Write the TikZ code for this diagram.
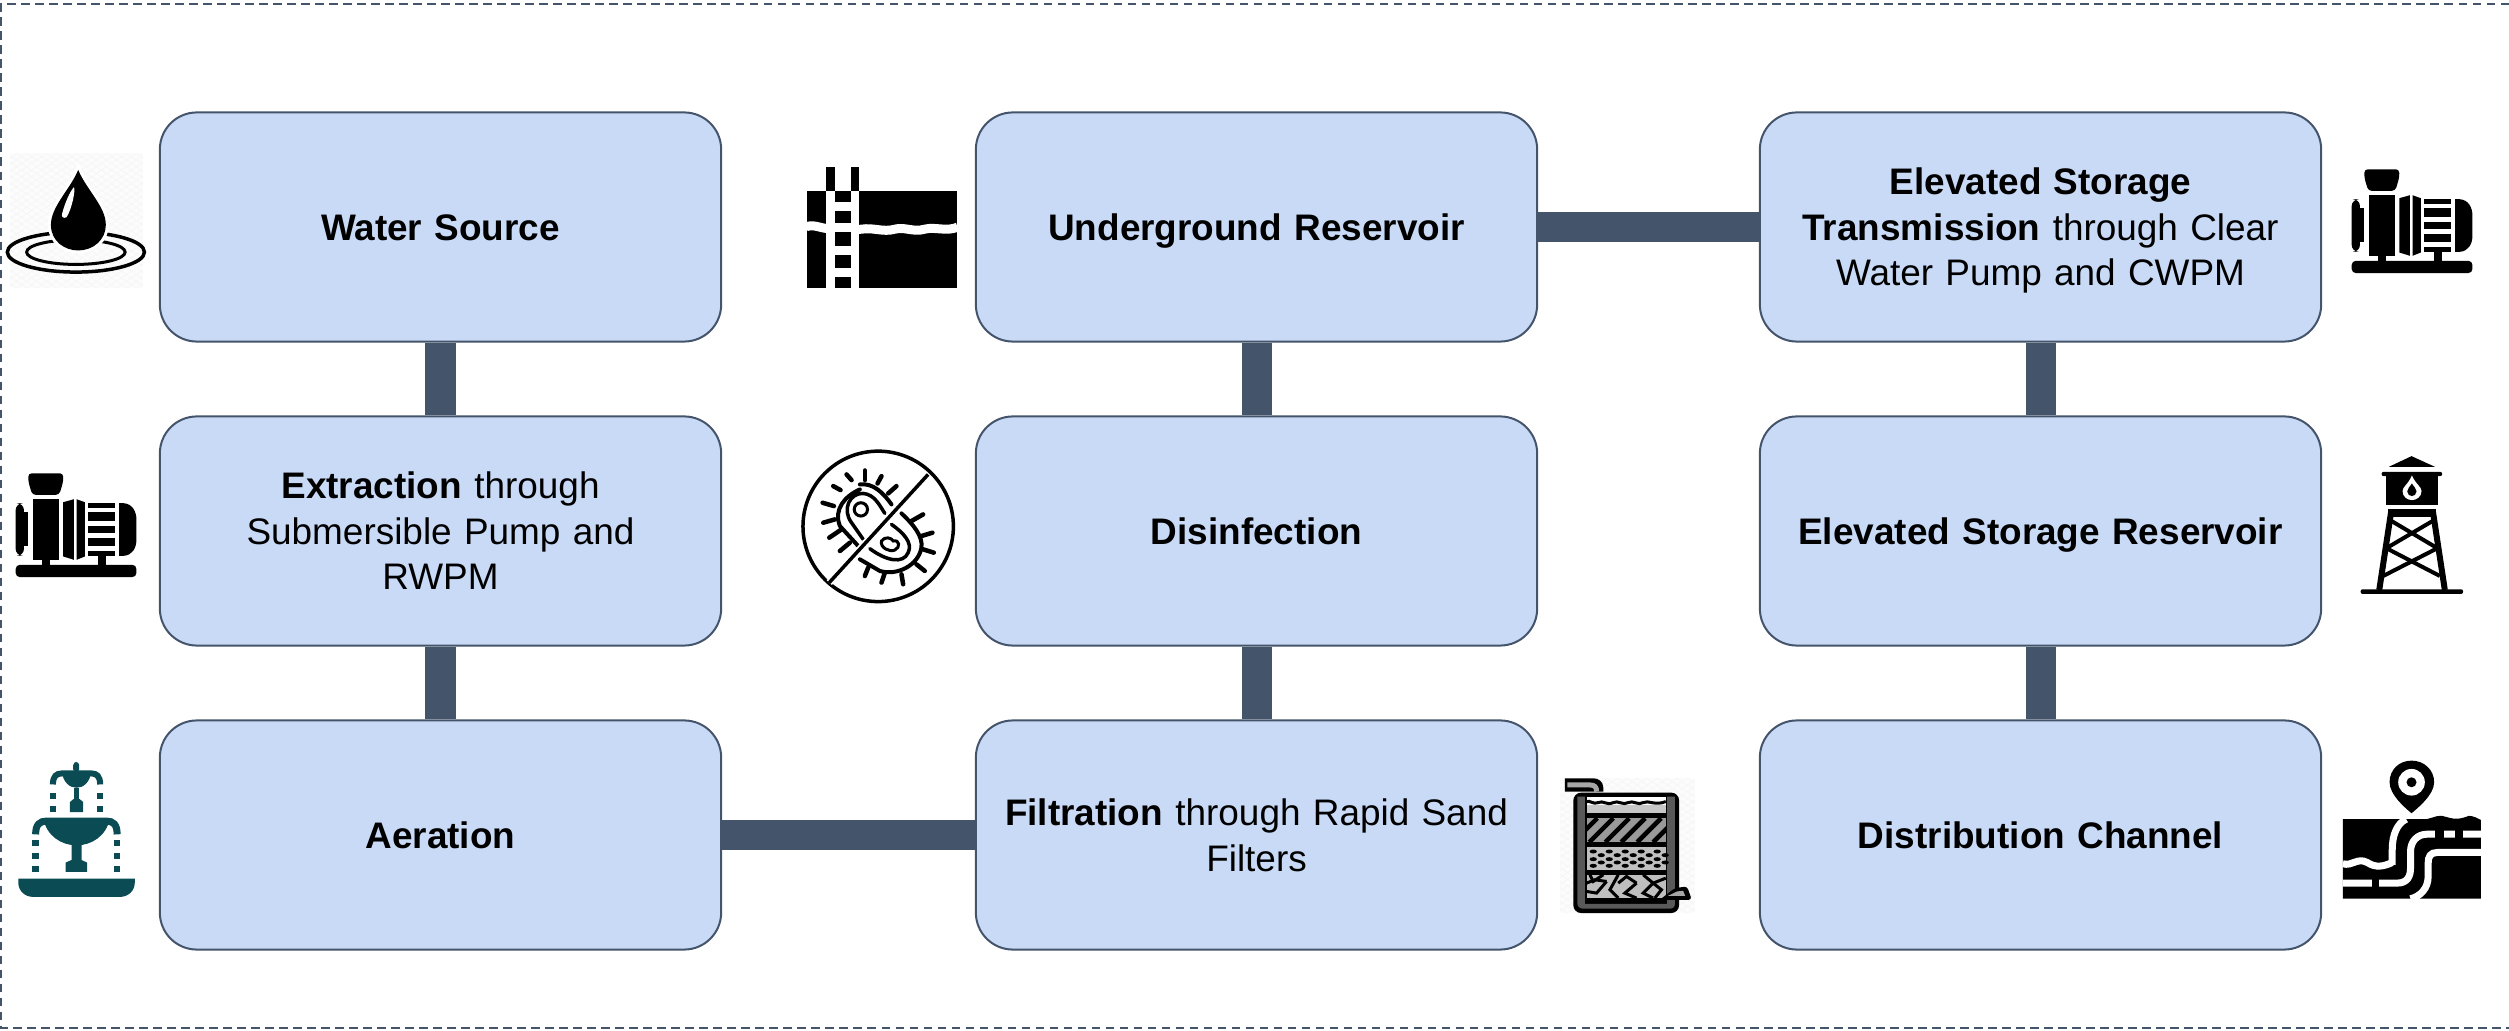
\documentclass[tikz,border=0pt]{standalone}
\usepackage{fontspec}
\setmainfont{Liberation Sans}
\usepackage{tikz}
\definecolor{slateline}{HTML}{44546A}
\definecolor{boxblue}{HTML}{C9DAF6}
\definecolor{fountainteal}{HTML}{0B4C54}
\newcommand{\stagestrut}{\rule[-3.6pt]{0pt}{10.8pt}}
\newcommand{\stagetop}{\rule[-3.6pt]{0pt}{14.8pt}}
\tikzset{
    stagebox/.style={draw=slateline,line width=0.02cm,fill=boxblue,rounded corners=0.37cm,
        minimum width=5.61cm,minimum height=2.29cm,align=center,text width=5.3cm,
        font=\fontsize{10.5}{12.9}\selectfont,
        execute at begin node=\stagetop,execute at end node=\stagestrut},
    link/.style={slateline,line width=0.3cm},
    frameline/.style={slateline,line width=0.02cm,dash pattern=on 0.085cm off 0.055cm},
    crop/.style={x=0.00333cm,y=-0.00333cm},
}
\newcommand{\checkbg}[4]{
    \begin{scope}
        \clip (#1,#2) rectangle (#3,#4);
        \fill[black!1] (#1,#2) rectangle (#3,#4);
        \foreach \k in {-600,-570,...,600}{
            \draw[black!4,line width=0.15pt] ({(#1+#3)/2+\k-300},#2) -- ({(#1+#3)/2+\k+300},#4);
            \draw[black!4,line width=0.15pt] ({(#1+#3)/2+\k+300},#2) -- ({(#1+#3)/2+\k-300},#4);
        }
    \end{scope}
}
\newcommand{\pumpicon}{
    \fill[rounded corners=1.2pt] (47,375) rectangle (410,412);
    \fill[rounded corners=1pt] (85,100) -- (190,100) -- (190,125) -- (178,165) -- (97,165) -- (85,125) -- cycle;
    \fill (100,178) rectangle (178,360);
    \fill[rounded corners=2pt] (47,190) rectangle (72,348);
    \fill (72,215) rectangle (85,320);
    \fill (190,187) -- (222,178) -- (222,360) -- (190,350) -- cycle;
    \fill (230,178) -- (255,187) -- (255,350) -- (230,360) -- cycle;
    \foreach \a/\b in {190/203,217/242,257/280,295/320,335/348}{
        \fill (265,\a) rectangle (345,\b);
    }
    \fill (358,190) -- (372,190) .. controls (398,192) and (410,215) .. (410,240) -- (410,298)
        .. controls (410,325) and (398,346) .. (372,348) -- (358,348) -- cycle;
    \fill (125,360) rectangle (150,375);
    \fill (293,348) rectangle (318,375);
}
\begin{document}
\begin{tikzpicture}[x=0.01cm,y=-0.01cm]
    \useasboundingbox (0,0) rectangle (2509,1031);
    \draw[frameline] (2509,4) -- (1,4) -- (1,1028) -- (2509,1028);

    \node[stagebox] (source) at (440.5,227) {\textbf{Water Source}};
    \node[stagebox] (extraction) at (440.5,531) {\textbf{Extraction} through\\Submersible Pump and\\RWPM};
    \node[stagebox] (aeration) at (440.5,835) {\textbf{Aeration}};
    \node[stagebox] (reservoir) at (1256.5,227) {\textbf{Underground Reservoir}};
    \node[stagebox] (disinfection) at (1256.5,531) {\textbf{Disinfection}};
    \node[stagebox] (filtration) at (1256.5,835) {\textbf{Filtration} through Rapid Sand\\Filters};
    \node[stagebox] (transmission) at (2040.5,227) {\textbf{Elevated Storage}\\\textbf{Transmission} through Clear\\Water Pump and CWPM};
    \node[stagebox] (elevated) at (2040.5,531) {\textbf{Elevated Storage Reservoir}};
    \node[stagebox] (distribution) at (2040.5,835) {\textbf{Distribution Channel}};

    \draw[link] (source) -- (extraction);
    \draw[link] (extraction) -- (aeration);
    \draw[link] (aeration) -- (filtration);
    \draw[link] (filtration) -- (disinfection);
    \draw[link] (disinfection) -- (reservoir);
    \draw[link] (reservoir) -- (transmission);
    \draw[link] (transmission) -- (elevated);
    \draw[link] (elevated) -- (distribution);

    \begin{scope}[shift={(0,120)},crop]
        \checkbg{30}{100}{430}{505}
        \draw[line width=0.035cm] (228,397) ellipse (206 and 60);
        \draw[line width=0.03cm] (228,397) ellipse (148 and 37);
        \filldraw[black,preaction={draw=white,line width=0.06cm},draw=none] (235,150) .. controls (210,210) and (153,260) .. (153,315)
            .. controls (153,365) and (195,392) .. (235,392) .. controls (280,392) and (318,360) .. (318,315)
            .. controls (318,260) and (260,210) .. (235,150) -- cycle;
        \fill[white] (222,202) .. controls (228,210) and (215,270) .. (200,292) .. controls (190,298) and (183,290) .. (187,280)
            .. controls (195,250) and (210,215) .. (222,202) -- cycle;
    \end{scope}

    \begin{scope}[shift={(0,440)},crop]
        \pumpicon
    \end{scope}
    \begin{scope}[shift={(2336,136)},crop]
        \pumpicon
    \end{scope}

    \begin{scope}[shift={(0,440)},crop,fountainteal]
        \fill (55,1318) -- (405,1318) -- (405,1330) .. controls (405,1355) and (385,1373) .. (360,1373)
            -- (100,1373) .. controls (75,1373) and (55,1355) .. (55,1330) -- cycle;
        \fill (197,1298) -- (197,1270) -- (215,1262) -- (215,1210) -- (245,1210) -- (245,1262) -- (262,1270) -- (262,1298) -- cycle;
        \fill (130,1137) -- (330,1137) .. controls (320,1190) and (275,1218) .. (230,1218) .. controls (185,1218) and (140,1190) .. (130,1137) -- cycle;
        \draw[line width=0.07cm] (107,1185) .. controls (107,1155) and (120,1145) .. (140,1145) -- (320,1145)
            .. controls (340,1145) and (352,1155) .. (352,1185);
        \foreach \a/\b in {1203/1220,1242/1258,1280/1298}{
            \fill (97,\a) rectangle (117,\b);
            \fill (343,\a) rectangle (362,\b);
        }
        \fill[rounded corners=1pt] (220,1000) -- (220,967) -- (238,967) -- (238,1000) -- cycle;
        \fill (185,995) -- (275,995) .. controls (270,1030) and (250,1045) .. (230,1045) .. controls (210,1045) and (190,1030) .. (185,995) -- cycle;
        \draw[line width=0.06cm] (159,1035) .. controls (159,1010) and (170,1002) .. (185,1002) -- (275,1002)
            .. controls (290,1002) and (301,1010) .. (301,1035);
        \fill (222,1045) rectangle (238,1078);
        \fill (210,1118) -- (210,1088) -- (222,1078) -- (238,1078) -- (250,1088) -- (250,1118) -- cycle;
        \foreach \a/\b in {1062/1080,1100/1118}{
            \fill (150,\a) rectangle (168,\b);
            \fill (292,\a) rectangle (310,\b);
        }
    \end{scope}

    \begin{scope}[shift={(780,140)},crop]
        \fill (80,152) rectangle (533,445);
        \fill (138,82) rectangle (165,152);
        \fill (212,82) rectangle (238,152);
        \fill[white] (138,152) rectangle (238,445);
        \draw[white,line width=0.09cm] (80,260) .. controls (110,252) and (125,270) .. (155,265)
            .. controls (185,260) and (215,272) .. (245,268) .. controls (280,262) and (310,278) .. (345,268)
            .. controls (375,260) and (400,278) .. (435,268) .. controls (465,260) and (500,276) .. (533,262);
        \fill[white] (138,240) rectangle (238,290);
        \foreach \a/\b in {152/185,212/248,275/318,345/385,412/445}{
            \fill (165,\a) rectangle (212,\b);
        }

        \draw[line width=0.035cm] (295,1161) circle (226);
        \draw[line width=0.04cm,line cap=round] (240,1050) .. controls (195,1070) and (160,1110) .. (180,1160) -- (235,1220);
        \draw[line width=0.04cm,line cap=round] (240,1035) .. controls (280,1030) and (310,1060) .. (335,1095);
        \draw[line width=0.035cm,line cap=round] (250,1062) .. controls (210,1060) and (185,1110) .. (215,1150) -- (250,1200);
        \draw[line width=0.035cm,line cap=round] (250,1062) .. controls (285,1065) and (300,1100) .. (315,1122);
        \draw[line width=0.03cm] (243,1110) circle (20);
        \draw[line width=0.04cm,line cap=round] (365,1122) .. controls (400,1155) and (430,1190) .. (425,1225)
            .. controls (415,1280) and (350,1310) .. (300,1295) -- (240,1260);
        \draw[line width=0.035cm,line cap=round] (335,1155) .. controls (370,1180) and (400,1210) .. (385,1240)
            .. controls (370,1275) and (320,1265) .. (270,1228);
        \draw[line width=0.03cm] (305,1205) .. controls (315,1190) and (335,1195) .. (340,1205)
            .. controls (360,1200) and (362,1225) .. (345,1232) .. controls (330,1240) and (300,1225) .. (305,1205) -- cycle;
        \foreach \a/\b/\c/\d in {200/1005/215/1022,255/993/255/1022,305/1010/293/1032,350/1040/325/1062,
            160/1040/182/1052,128/1090/162/1100,130/1150/165/1140,148/1195/185/1170,180/1235/210/1210,
            430/1125/395/1145,458/1180/425/1190,462/1240/430/1230,435/1295/410/1275,370/1335/365/1305,
            305/1330/315/1300,255/1310/265/1285}{
            \draw[line width=0.045cm,line cap=round] (\a,\b) -- (\c,\d);
        }
        \draw[white,line width=0.07cm] (445,1005) -- (148,1330);
        \draw[line width=0.035cm] (445,1005) -- (148,1330);
    \end{scope}

    \begin{scope}[shift={(1540,750)},crop]
        \checkbg{60}{85}{465}{490}
        \fill[rounded corners=0.08cm] (100,128) -- (418,128) -- (418,490) -- (100,490) -- cycle;
        \fill[black!65] (112,140) -- (135,140) -- (135,462) -- (382,462) -- (382,140) -- (405,140) -- (405,465)
            .. controls (405,475) and (395,477) .. (385,477) -- (130,477) .. controls (120,477) and (112,470) .. (112,460) -- cycle;
        \fill[white] (140,140) rectangle (378,165);
        \fill[black!22] (140,165) rectangle (378,190);
        \draw[line width=0.03cm] (140,155) .. controls (150,150) and (160,165) .. (175,158)
            .. controls (190,150) and (200,168) .. (220,158) .. controls (235,150) and (250,168) .. (265,158)
            .. controls (280,150) and (295,168) .. (310,158) .. controls (325,150) and (345,168) .. (378,155);
        \fill[black!40] (140,205) rectangle (378,277);
        \begin{scope}
            \clip (140,205) rectangle (378,277);
            \foreach \k in {100,148,...,440}{
                \draw[line width=0.045cm] (\k,277) -- (\k+72,205);
            }
        \end{scope}
        \fill[black!25] (140,292) rectangle (378,362);
        \foreach \k in {160,208,...,360}{
            \fill (\k,305) ellipse (11 and 6);
            \fill (\k,328) ellipse (11 and 6);
            \fill (\k,348) ellipse (11 and 6);
            \fill (\k+24,316) ellipse (11 and 6);
            \fill (\k+24,338) ellipse (11 and 6);
        }
        \fill[black!25] (140,375) rectangle (378,445);
        \begin{scope}
            \clip (140,375) rectangle (378,445);
            \foreach \a/\b/\c/\d/\e/\f in {140/400/165/390/200/395,200/395/170/430/140/425,235/375/210/420/235/445,
                235/400/260/380/290/400,290/400/255/430/290/445,310/375/340/400/378/385,340/400/310/430/340/445,
                340/400/365/420/345/445,150/375/160/395/190/375}{
                \draw[line width=0.03cm] (\a,\b) -- (\c,\d) -- (\e,\f);
            }
        \end{scope}
        \fill (135,125) -- (190,125) -- (190,112) .. controls (190,95) and (175,85) .. (160,85) -- (75,85) -- (75,125) -- cycle;
        \draw[black!35,line width=0.05cm] (82,105) -- (150,105) .. controls (165,105) and (170,112) .. (170,125);
        \fill[rounded corners=0.03cm] (360,450) -- (405,415) -- (442,410) -- (456,450) -- cycle;
        \fill[black!35] (385,438) -- (412,425) -- (430,423) -- (436,438) -- cycle;
    \end{scope}

    \begin{scope}[shift={(2320,140)},crop]
        \fill (207,982) -- (275,950) -- (345,982) -- cycle;
        \fill[rounded corners=0.02cm] (185,997) rectangle (367,1010);
        \fill (198,1010) rectangle (354,1097);
        \fill[white] (276,1008) .. controls (265,1035) and (248,1042) .. (248,1055) .. controls (248,1072) and (262,1082) .. (276,1082)
            .. controls (290,1082) and (305,1072) .. (305,1055) .. controls (305,1042) and (288,1035) .. (276,1008) -- cycle;
        \fill (276,1032) .. controls (270,1042) and (262,1048) .. (262,1056) .. controls (262,1065) and (270,1070) .. (276,1070)
            .. controls (282,1070) and (290,1065) .. (290,1056) .. controls (290,1048) and (282,1042) .. (276,1032) -- cycle;
        \fill (205,1110) rectangle (348,1133);
        \draw[line width=0.06cm] (214,1115) -- (178,1352);
        \draw[line width=0.06cm] (339,1115) -- (375,1352);
        \draw[line width=0.04cm] (215,1145) -- (350,1225);
        \draw[line width=0.04cm] (338,1145) -- (202,1225);
        \draw[line width=0.04cm] (202,1228) -- (360,1310);
        \draw[line width=0.04cm] (350,1228) -- (190,1310);
        \fill[rounded corners=0.02cm] (122,1350) rectangle (430,1364);
    \end{scope}

    \begin{scope}[shift={(2309,740)},crop]
        \fill (102,238) -- (340,238) .. controls (365,240) and (380,225) .. (400,228) .. controls (420,232) and (440,245) .. (480,228)
            .. controls (495,228) and (505,235) .. (516,240) -- (516,477) -- (102,477) -- cycle;
        \draw[white,line width=0.07cm] (292,238) .. controls (265,250) and (250,285) .. (250,330) -- (250,375);
        \draw[white,line width=0.07cm] (102,372) .. controls (130,380) and (145,352) .. (175,368) .. controls (200,385) and (225,380) .. (250,368);
        \draw[white,line width=0.07cm] (516,283) -- (355,283) .. controls (325,283) and (305,305) .. (305,335) -- (305,385)
            .. controls (305,410) and (295,430) .. (265,430) -- (102,430);
        \fill (380,265) rectangle (405,300);
        \fill (440,265) rectangle (462,300);
        \fill (188,412) rectangle (210,448);
        \draw[white,line width=0.07cm] (516,338) -- (385,338) .. controls (365,338) and (358,350) .. (358,370) -- (358,410)
            .. controls (358,445) and (335,470) .. (305,477);
        \fill (308,62) .. controls (270,62) and (242,90) .. (242,127) .. controls (242,165) and (290,205) .. (308,220)
            .. controls (326,205) and (376,165) .. (376,127) .. controls (376,90) and (346,62) .. (308,62) -- cycle;
        \fill[white] (308,127) circle (40);
        \fill (308,127) circle (15);
    \end{scope}
\end{tikzpicture}
\end{document}
